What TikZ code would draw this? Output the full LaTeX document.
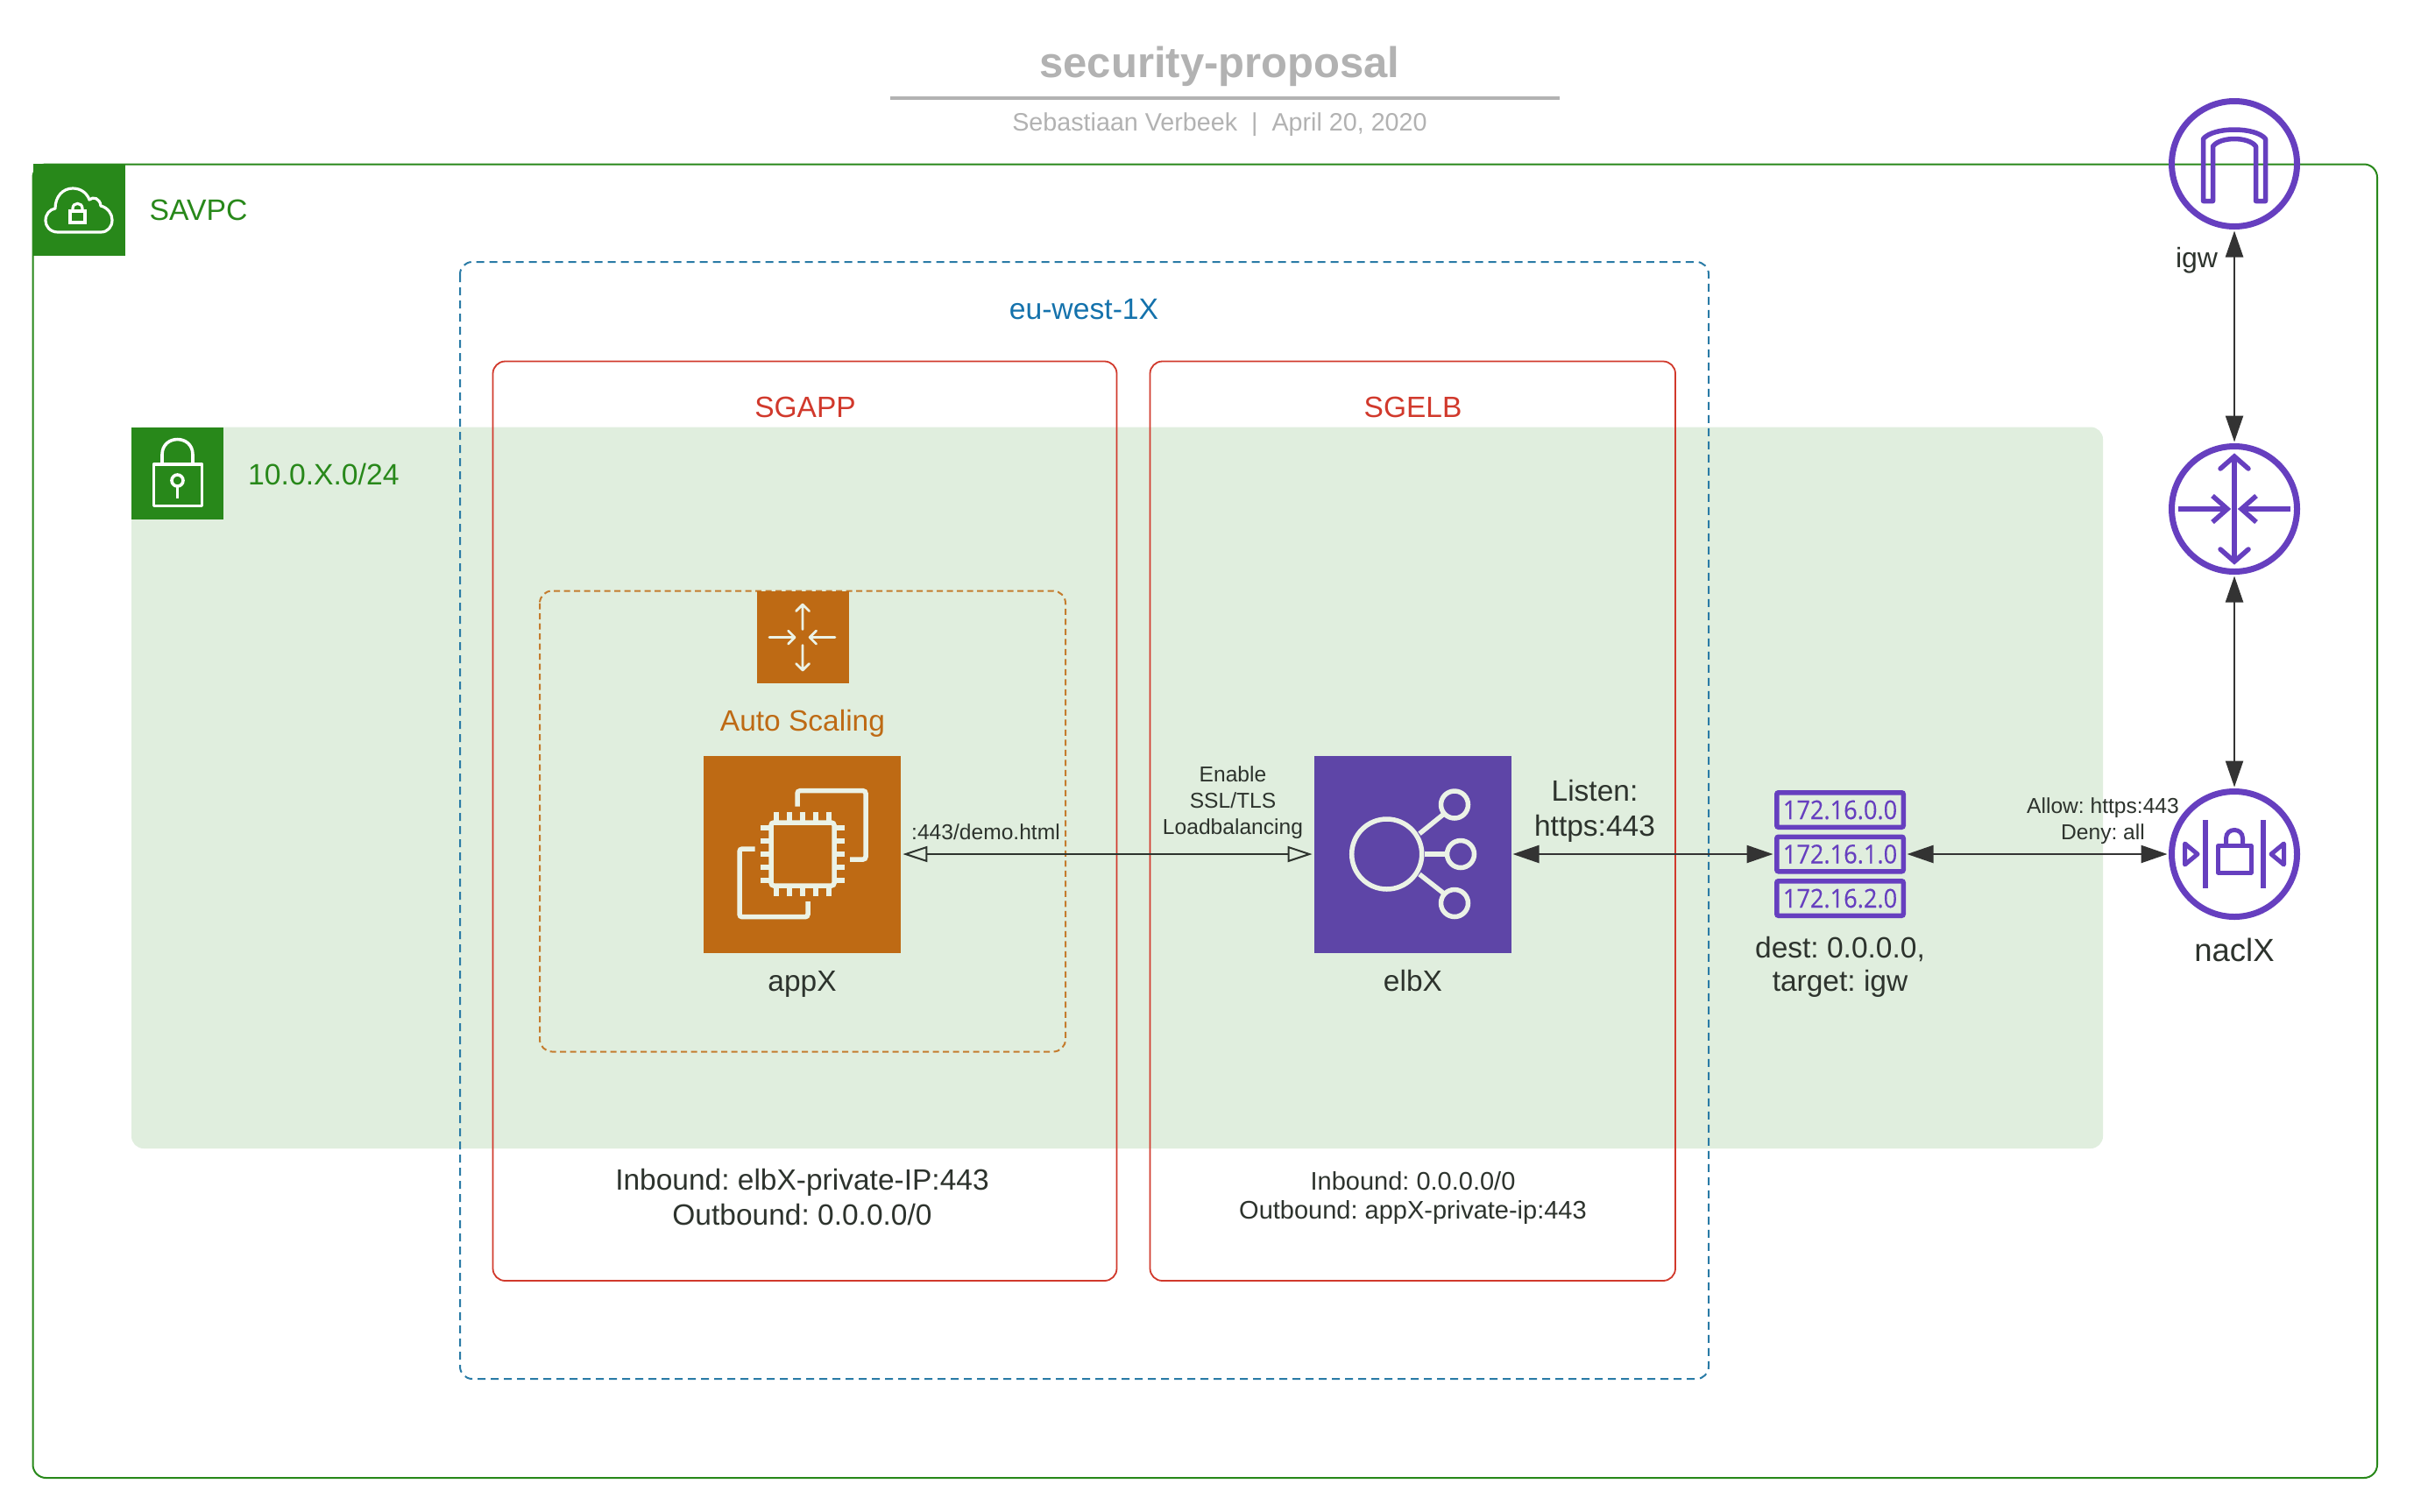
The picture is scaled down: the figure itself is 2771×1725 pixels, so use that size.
\documentclass[tikz,border=0pt]{standalone}
\usepackage{fontspec}
\usepackage{graphicx}
\setmainfont{Liberation Sans}
\newfontfamily\rtfont[FakeBold=0.35]{Open Sans}
\usetikzlibrary{arrows.meta}
\AtBeginDocument{\frenchspacing}
\definecolor{vpcgreen}{HTML}{28881A}
\definecolor{subgreen}{HTML}{E0EEDE}
\definecolor{azblue}{HTML}{2A7BA6}
\definecolor{azlabel}{HTML}{1472AC}
\definecolor{sgred}{HTML}{D1392C}
\definecolor{asorange}{HTML}{BE6A14}
\definecolor{asdash}{HTML}{C47C2E}
\definecolor{elbpurple}{HTML}{5E45A7}
\definecolor{netpurple}{HTML}{663FBF}
\definecolor{txt}{HTML}{2D332D}
\definecolor{lnk}{HTML}{333333}
\definecolor{titlegrey}{HTML}{B2B2B2}
\definecolor{icoline}{HTML}{EBF2E6}
\newcommand{\fs}[1]{\fontsize{#1}{#1}\selectfont}
\tikzset{
  x=1pt,y=-1pt,
  lbl/.style={inner sep=0pt,outer sep=0pt,text=txt,align=center,font=\fs{33.5}},
  smalllbl/.style={inner sep=0pt,outer sep=0pt,text=txt,align=center,font=\fontsize{24.6}{30}\selectfont},
  iconsq/.style={rectangle,inner sep=0pt,outer sep=0pt},
  netcircle/.style={circle,draw=netpurple,line width=7pt,minimum size=143pt,inner sep=0pt},
  netstroke/.style={draw=netpurple,line width=5.5pt},
  rtbox/.style={rectangle,rounded corners=2pt,draw=netpurple,line width=5.5pt,minimum width=144.5pt,minimum height=39.5pt,inner sep=0pt,text=netpurple,font=\rtfont\fontsize{29.5}{30}\selectfont},
  lightico/.style={draw=icoline,line width=5.5pt},
  whiteico/.style={draw=white,line width=3.2pt},
  solidconn/.style={draw=lnk,line width=2.4pt,{Triangle[length=30pt,width=20pt]}-{Triangle[length=30pt,width=20pt]},shorten <=1.5pt,shorten >=1.5pt},
  openconn/.style={draw=txt,line width=2.2pt,{Triangle[open,length=28pt,width=18pt,fill=subgreen,line width=2pt]}-{Triangle[open,length=28pt,width=18pt,fill=subgreen,line width=2pt]},shorten <=2.4pt,shorten >=2.4pt},
}
\begin{document}
\begin{tikzpicture}
\useasboundingbox (0,0) rectangle (2771,1725);
\fill[white] (0,0) rectangle (2771,1725);

% title
\node[inner sep=0pt,text=titlegrey,font=\bfseries\fs{49}] (title) at (1392,76) {security-proposal};
\coordinate (ruleL) at (1016,112);
\coordinate (ruleR) at (1780,112);
\draw[titlegrey,line width=4pt] (ruleL) -- (ruleR);
\node[inner sep=0pt,text=titlegrey,font=\fs{28.7}] (subtitle) at (1392,142) {Sebastiaan Verbeek\ \ |\ \ April 20, 2020};

% subnet fill
\fill[subgreen,rounded corners=14pt] (150,487.5) rectangle (2400,1311);
% VPC
\draw[vpcgreen,line width=2pt,rounded corners=15pt] (37.5,187.5) rectangle (2713,1687);
\node[iconsq,fill=vpcgreen,minimum size=105pt,anchor=north west] (vpcicon) at (37.5,187) {};
\node[iconsq,fill=vpcgreen,minimum size=105pt,anchor=north west] (subneticon) at (150,487.5) {};
\node[inner sep=0pt,text=vpcgreen,font=\fs{33.7},anchor=west] (vpclabel) at (170.5,240) {SAVPC};
\node[inner sep=0pt,text=vpcgreen,font=\fs{33.7},anchor=west] (sublabel) at (283,541) {10.0.X.0/24};

% VPC cloud icon
\draw[whiteico,line join=round] (66,265) .. controls (57,265) and (52,258) .. (52,252)
  .. controls (52,244) and (57,239) .. (63,238)
  .. controls (63,224) and (72,215) .. (83,215)
  .. controls (92,215) and (99,220) .. (102,228)
  .. controls (106,224) and (114,226) .. (115,235)
  .. controls (123,237) and (128,244) .. (128,251)
  .. controls (128,259) and (123,265) .. (115,265) -- cycle;
\draw[whiteico] (80,241) rectangle (97,254);
\draw[whiteico] (83,241) -- (83,238) .. controls (83,230.5) and (94,230.5) .. (94,238) -- (94,241);
% subnet lock icon
\draw[whiteico,line width=3.6pt,line join=round] (175.5,530) rectangle (230.5,577.5);
\draw[whiteico,line width=3.6pt] (185,530) -- (185,519) .. controls (185,495.7) and (220,495.7) .. (220,519) -- (220,530);
\draw[whiteico,line width=3.6pt] (202.5,548.5) circle[radius=6.5];
\draw[whiteico,line width=3.6pt] (202.5,555) -- (202.5,569);

% availability zone
\draw[azblue,line width=2pt,dash pattern=on 9pt off 6pt,rounded corners=14pt] (525,299) rectangle (1950,1574);
\node[inner sep=0pt,text=azlabel,font=\fs{33.7}] (azlabel) at (1237,353) {eu-west-1X};

% security groups
\draw[sgred,line width=1.8pt,rounded corners=14pt] (562.5,412.5) rectangle (1274.5,1462);
\draw[sgred,line width=1.8pt,rounded corners=14pt] (1312.5,412.5) rectangle (1912,1462);
\node[inner sep=0pt,text=sgred,font=\fs{33.5}] (sgapp) at (919,465) {SGAPP};
\node[inner sep=0pt,text=sgred,font=\fs{33.5}] (sgelb) at (1612.5,465) {SGELB};
\node[lbl] (sgappin) at (915.5,1350) {Inbound: elbX-private-IP:443};
\node[lbl] (sgappout) at (915.5,1387) {Outbound: 0.0.0.0/0};
\node[lbl,font=\fs{29}] (sgelbin) at (1612.5,1348) {Inbound: 0.0.0.0/0};
\node[lbl,font=\fs{29}] (sgelbout) at (1612.5,1384) {Outbound: appX-private-ip:443};

% auto scaling group
\draw[asdash,line width=2pt,dash pattern=on 7pt off 4.5pt,rounded corners=14pt] (616,674.5) rectangle (1216,1200.5);
\node[iconsq,fill=asorange,minimum size=105pt] (asicon) at (916,727) {};
\node[inner sep=0pt,text=asorange,font=\fs{33.5}] (aslabel) at (916,826) {Auto Scaling};
\begin{scope}[line cap=round,line join=round]
  \draw[icoline,line width=2.8pt] (916,718.5) -- (916,690) (908.5,697.5) -- (916,690) -- (923.5,697.5);
  \draw[icoline,line width=2.8pt] (916,736.5) -- (916,765) (908.5,757.5) -- (916,765) -- (923.5,757.5);
  \draw[icoline,line width=2.8pt] (878,727.5) -- (907,727.5) (899.5,720) -- (907,727.5) -- (899.5,735);
  \draw[icoline,line width=2.8pt] (953,727.5) -- (924,727.5) (931.5,720) -- (924,727.5) -- (931.5,735);
\end{scope}

% appX
\node[iconsq,fill=asorange,minimum size=225pt] (appX) at (915.5,975) {};
\node[lbl] (appXlabel) at (915.5,1123) {appX};
\draw[lightico,rounded corners=3pt] (880,939) rectangle (952,1011);
\foreach \p in {885.7,900.7,915.7,930.7,945.7}{
  \draw[lightico,line width=6pt] (\p,926.7) -- (\p,937);
  \draw[lightico,line width=6pt] (\p,1013) -- (\p,1023.3);
}
\foreach \p in {945,960,975,990,1005}{
  \draw[lightico,line width=6pt] (868.3,\p) -- (878,\p);
  \draw[lightico,line width=6pt] (954,\p) -- (963.7,\p);
}
\draw[lightico,rounded corners=3pt] (910,920.7) -- (910,902.7) -- (988,902.7) -- (988,981) -- (970,981);
\draw[lightico,rounded corners=3pt] (861.7,969) -- (844,969) -- (844,1046.7) -- (922,1046.7) -- (922,1029);

% elbX
\node[iconsq,fill=elbpurple,minimum size=225pt] (elbX) at (1612.5,975) {};
\node[lbl] (elbXlabel) at (1612.5,1120) {elbX};
\draw[lightico] (1582.7,975) circle[radius=40];
\draw[lightico] (1660,918.5) circle[radius=15.5];
\draw[lightico] (1667,975) circle[radius=15.5];
\draw[lightico] (1660,1031) circle[radius=15.5];
\draw[lightico] (1620,951.7) -- (1648,929);
\draw[lightico] (1626,975) -- (1651,975);
\draw[lightico] (1620,998) -- (1648,1020);

% route table
\node[rtbox] (rt0) at (2100,924.5) {\scalebox{.92}[1]{172.16.0.0}};
\node[rtbox] (rt1) at (2100,975) {\scalebox{.92}[1]{172.16.1.0}};
\node[rtbox] (rt2) at (2100,1025.5) {\scalebox{.92}[1]{172.16.2.0}};
\node[lbl] (rtlabela) at (2100,1083) {dest: 0.0.0.0,};
\node[lbl] (rtlabelb) at (2100,1123) {target: igw};

% network icons
\node[netcircle] (igw) at (2550,187) {};
\node[netcircle] (router) at (2550,581) {};
\node[netcircle] (nacl) at (2550,975) {};
\node[lbl,font=\fs{32}] (igwlabel) at (2507,297) {igw};
\node[lbl,font=\fs{36.5}] (nacllabel) at (2550,1084) {naclX};

% igw arch
\draw[netstroke,line join=round] (2514.5,229.5) -- (2514.5,158.5)
  .. controls (2526,144.5) and (2574,144.5) .. (2585.5,158.5)
  -- (2585.5,229.5) -- (2574.5,229.5) -- (2574.5,167)
  .. controls (2566,155.7) and (2534,155.7) .. (2525.5,167)
  -- (2525.5,229.5) -- cycle;
% router arrows
\draw[netstroke] (2550,522) -- (2550,641);
\draw[netstroke,line cap=round,line join=miter] (2534,535) -- (2550,521) -- (2566,535);
\draw[netstroke,line cap=round,line join=miter] (2534,627) -- (2550,641) -- (2566,627);
\draw[netstroke] (2486,581) -- (2541,581);
\draw[netstroke,line join=miter] (2525,566) -- (2542,581) -- (2525,596);
\draw[netstroke] (2614,581) -- (2559,581);
\draw[netstroke,line join=miter] (2575,566) -- (2558,581) -- (2575,596);
% nacl icon
\draw[netstroke,line width=6pt] (2517,936) -- (2517,1014);
\draw[netstroke,line width=6pt] (2583,936) -- (2583,1014);
\draw[netstroke,line width=5pt,line join=round] (2531.5,965.5) rectangle (2569,996);
\draw[netstroke,line width=5pt] (2540.5,965.5) -- (2540.5,957) .. controls (2540.5,944.3) and (2559.5,944.3) .. (2559.5,957) -- (2559.5,965.5);
\draw[netstroke,line width=5pt,line join=round] (2493.5,963) -- (2508,975) -- (2493.5,987) -- cycle;
\draw[netstroke,line width=5pt,line join=round] (2606.5,963) -- (2592,975) -- (2606.5,987) -- cycle;

% connectors
\draw[openconn] (appX.east) -- (elbX.west);
\draw[solidconn] (elbX.east) -- (rt1.west);
\draw[solidconn] (rt1.east) -- (nacl.west);
\draw[solidconn] (igw.south) -- (router.north);
\draw[solidconn] (router.south) -- (nacl.north);

% connector labels
\node[smalllbl] (applabel) at (1125,950) {:443/demo.html};
\node[smalllbl] (elblabel) at (1407,916) {Enable\\SSL/TLS\\Loadbalancing};
\node[lbl,font=\fontsize{33.5}{40}\selectfont] (listen) at (1820,925.5) {Listen:\\https:443};
\node[smalllbl] (nacllabela) at (2400,922) {Allow: https:443};
\node[smalllbl] (nacllabelb) at (2400,952) {Deny: all};
\end{tikzpicture}
\end{document}
